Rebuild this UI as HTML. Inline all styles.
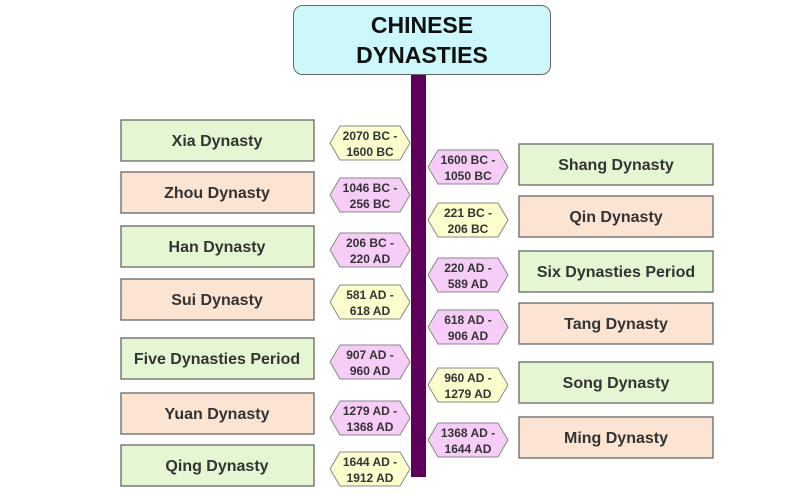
<!DOCTYPE html>
<html><head><meta charset="utf-8"><style>
html,body{margin:0;padding:0;background:#fff;}
svg{display:block;font-family:"Liberation Sans",Arial,sans-serif;font-weight:bold;}
</style></head><body>
<svg width="800" height="504" viewBox="0 0 800 504" xmlns="http://www.w3.org/2000/svg">
<rect x="411" y="72" width="15" height="405" fill="#5c005c"/>
<rect x="293.5" y="5.5" width="257" height="69" rx="9" fill="#ccf8fc" stroke="#666" stroke-width="1"/>
<text x="422" y="33" font-size="23" text-anchor="middle" fill="#111">CHINESE</text>
<text x="422" y="63" font-size="23" text-anchor="middle" fill="#111">DYNASTIES</text>
<g stroke="#666" stroke-width="1.3" font-size="16" text-anchor="middle" fill="#333">
<rect x="121" y="120" width="193" height="41" fill="#e4f7d2"/>
<rect x="121" y="172" width="193" height="41" fill="#fce4d2"/>
<rect x="121" y="226" width="193" height="41" fill="#e4f7d2"/>
<rect x="121" y="279" width="193" height="41" fill="#fce4d2"/>
<rect x="121" y="338" width="193" height="41" fill="#e4f7d2"/>
<rect x="121" y="393" width="193" height="41" fill="#fce4d2"/>
<rect x="121" y="445" width="193" height="41" fill="#e4f7d2"/>
<rect x="519" y="144" width="194" height="41" fill="#e4f7d2"/>
<rect x="519" y="196" width="194" height="41" fill="#fce4d2"/>
<rect x="519" y="251" width="194" height="41" fill="#e4f7d2"/>
<rect x="519" y="303" width="194" height="41" fill="#fce4d2"/>
<rect x="519" y="362" width="194" height="41" fill="#e4f7d2"/>
<rect x="519" y="417" width="194" height="41" fill="#fce4d2"/>
</g>
<g font-size="16" text-anchor="middle" fill="#333">
<text x="217" y="146">Xia Dynasty</text>
<text x="217" y="198">Zhou Dynasty</text>
<text x="217" y="252">Han Dynasty</text>
<text x="217" y="305">Sui Dynasty</text>
<text x="217" y="364">Five Dynasties Period</text>
<text x="217" y="419">Yuan Dynasty</text>
<text x="217" y="471">Qing Dynasty</text>
<text x="616" y="170">Shang Dynasty</text>
<text x="616" y="222">Qin Dynasty</text>
<text x="616" y="277">Six Dynasties Period</text>
<text x="616" y="329">Tang Dynasty</text>
<text x="616" y="388">Song Dynasty</text>
<text x="616" y="443">Ming Dynasty</text>
</g>
<g stroke="#888" stroke-width="1">
<polygon id="h" points="330,143 340,126 400,126 410,143 400,160 340,160" fill="#fdfccc"/>
<polygon points="330,195 340,178 400,178 410,195 400,212 340,212" fill="#f6cdf6"/>
<polygon points="330,250 340,233 400,233 410,250 400,267 340,267" fill="#f6cdf6"/>
<polygon points="330,302 340,285 400,285 410,302 400,319 340,319" fill="#fdfccc"/>
<polygon points="330,362 340,345 400,345 410,362 400,379 340,379" fill="#f6cdf6"/>
<polygon points="330,418 340,401 400,401 410,418 400,435 340,435" fill="#f6cdf6"/>
<polygon points="330,469 340,452 400,452 410,469 400,486 340,486" fill="#fdfccc"/>
<polygon points="428,167 438,150 498,150 508,167 498,184 438,184" fill="#f6cdf6"/>
<polygon points="428,220 438,203 498,203 508,220 498,237 438,237" fill="#fdfccc"/>
<polygon points="428,275 438,258 498,258 508,275 498,292 438,292" fill="#f6cdf6"/>
<polygon points="428,327 438,310 498,310 508,327 498,344 438,344" fill="#f6cdf6"/>
<polygon points="428,385 438,368 498,368 508,385 498,402 438,402" fill="#fdfccc"/>
<polygon points="428,440 438,423 498,423 508,440 498,457 438,457" fill="#f6cdf6"/>
</g>
<g font-size="12" text-anchor="middle" fill="#333">
<text x="370" y="140">2070 BC -</text><text x="370" y="156">1600 BC</text>
<text x="370" y="192">1046 BC -</text><text x="370" y="208">256 BC</text>
<text x="370" y="247">206 BC -</text><text x="370" y="263">220 AD</text>
<text x="370" y="299">581 AD -</text><text x="370" y="315">618 AD</text>
<text x="370" y="359">907 AD -</text><text x="370" y="375">960 AD</text>
<text x="370" y="415">1279 AD -</text><text x="370" y="431">1368 AD</text>
<text x="370" y="466">1644 AD -</text><text x="370" y="482">1912 AD</text>
<text x="468" y="164">1600 BC -</text><text x="468" y="180">1050 BC</text>
<text x="468" y="217">221 BC -</text><text x="468" y="233">206 BC</text>
<text x="468" y="272">220 AD -</text><text x="468" y="288">589 AD</text>
<text x="468" y="324">618 AD -</text><text x="468" y="340">906 AD</text>
<text x="468" y="382">960 AD -</text><text x="468" y="398">1279 AD</text>
<text x="468" y="437">1368 AD -</text><text x="468" y="453">1644 AD</text>
</g>
</svg>
</body></html>
